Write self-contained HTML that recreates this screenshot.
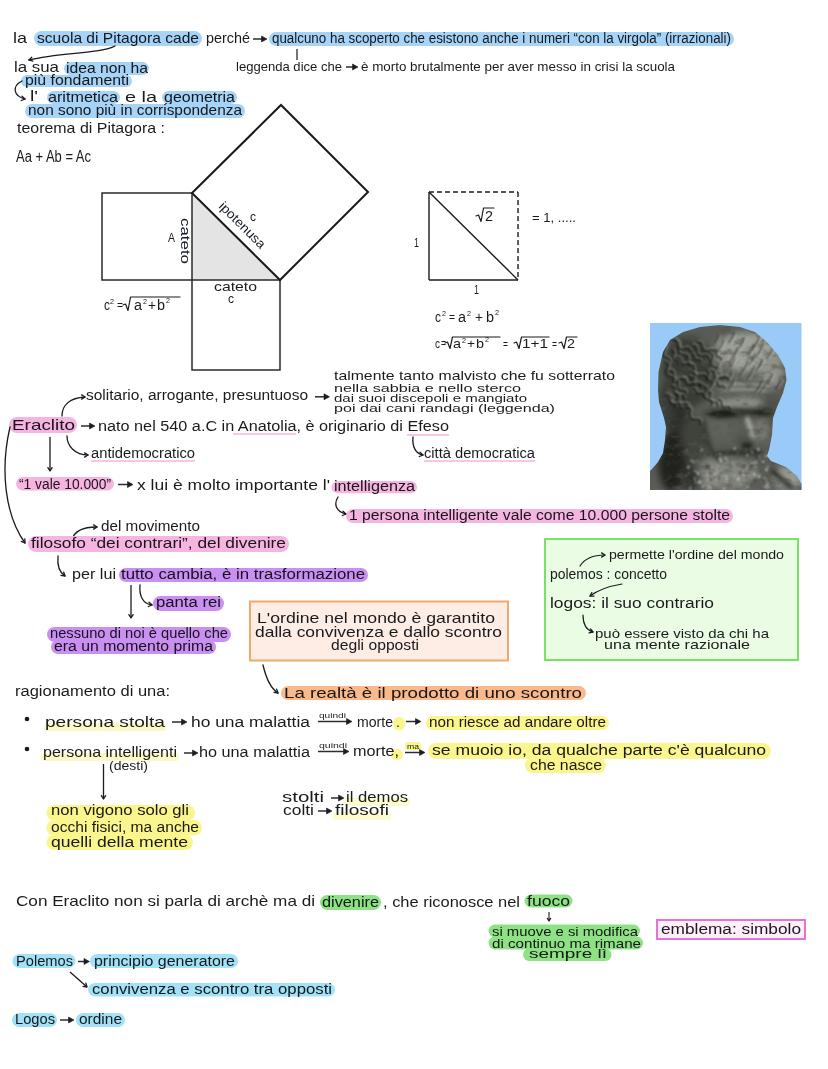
<!DOCTYPE html>
<html><head><meta charset="utf-8"><style>
html,body{margin:0;padding:0;background:#fff;overflow:hidden;}
svg{display:block;font-family:"Liberation Sans",sans-serif;}
text{mix-blend-mode:multiply;}
</style></head><body>
<svg width="828" height="1069" viewBox="0 0 828 1069">
<rect width="828" height="1069" fill="#fff"/>
<text x="13" y="43" font-size="15" textLength="14" lengthAdjust="spacingAndGlyphs" fill="#1b1b1f">la</text>
<rect x="34" y="31" width="168" height="15" rx="7.5" fill="#a7d3f6"/>
<text x="37" y="43" font-size="15" textLength="162" lengthAdjust="spacingAndGlyphs" fill="#1b1b1f">scuola di Pitagora cade</text>
<text x="206" y="43" font-size="15" textLength="44" lengthAdjust="spacingAndGlyphs" fill="#1b1b1f">perché</text>
<line x1="253" y1="39" x2="265" y2="39" stroke="#2c2c30" stroke-width="1.5"/>
<path d="M261.5,36 L267,39 L261.5,42 Z" fill="#1c1c22" stroke="#1c1c22" stroke-width="0.6" stroke-linejoin="round"/>
<rect x="269" y="32" width="465" height="14" rx="7.0" fill="#a7d3f6"/>
<text x="272" y="43" font-size="14" textLength="459" lengthAdjust="spacingAndGlyphs" fill="#1b1b1f">qualcuno ha scoperto che esistono anche i numeri “con la virgola” (irrazionali)</text>
<line x1="297" y1="49" x2="297" y2="60" stroke="#1b1b1f" stroke-width="1.2"/>
<text x="236" y="71" font-size="13" textLength="106" lengthAdjust="spacingAndGlyphs" fill="#1b1b1f">leggenda dice che</text>
<line x1="346" y1="67" x2="356" y2="67" stroke="#2c2c30" stroke-width="1.5"/>
<path d="M352.5,64 L358,67 L352.5,70 Z" fill="#1c1c22" stroke="#1c1c22" stroke-width="0.6" stroke-linejoin="round"/>
<text x="361" y="71" font-size="13" textLength="314" lengthAdjust="spacingAndGlyphs" fill="#1b1b1f">è morto brutalmente per aver messo in crisi la scuola</text>
<path d="M115,46 C100,54 60,52 29,60" stroke="#1b1b1f" stroke-width="1.3" fill="none" stroke-linecap="round" stroke-linejoin="round"/>
<path d="M31.8,57.1 L29,60 L32.8,61.1" stroke="#1b1b1f" stroke-width="1.3" fill="none" stroke-linecap="round" stroke-linejoin="round"/>
<text x="14" y="72" font-size="15" textLength="45" lengthAdjust="spacingAndGlyphs" fill="#1b1b1f">la sua</text>
<rect x="64" y="62" width="85" height="13" rx="6.5" fill="#a7d3f6"/>
<text x="66" y="73" font-size="15" textLength="82" lengthAdjust="spacingAndGlyphs" fill="#1b1b1f">idea non ha</text>
<rect x="21" y="75" width="111" height="12" rx="6.0" fill="#a7d3f6"/>
<text x="25" y="85" font-size="14" textLength="104" lengthAdjust="spacingAndGlyphs" fill="#1b1b1f">più fondamenti</text>
<path d="M22,81 C12,86 13,96 25,99" stroke="#1b1b1f" stroke-width="1.3" fill="none" stroke-linecap="round" stroke-linejoin="round"/>
<path d="M21.3,100.5 L25,99 L22.0,96.3" stroke="#1b1b1f" stroke-width="1.3" fill="none" stroke-linecap="round" stroke-linejoin="round"/>
<text x="30" y="101" font-size="15" textLength="8" lengthAdjust="spacingAndGlyphs" fill="#1b1b1f">l'</text>
<rect x="47" y="91" width="73" height="13" rx="6.5" fill="#a7d3f6"/>
<text x="48" y="102" font-size="15" textLength="70" lengthAdjust="spacingAndGlyphs" fill="#1b1b1f">aritmetica</text>
<text x="125" y="102" font-size="15" textLength="32" lengthAdjust="spacingAndGlyphs" fill="#1b1b1f">e la</text>
<rect x="162" y="91" width="75" height="13" rx="6.5" fill="#a7d3f6"/>
<text x="164" y="102" font-size="15" textLength="71" lengthAdjust="spacingAndGlyphs" fill="#1b1b1f">geometria</text>
<rect x="25" y="104" width="220" height="14" rx="7.0" fill="#a7d3f6"/>
<text x="28" y="115" font-size="15" textLength="214" lengthAdjust="spacingAndGlyphs" fill="#1b1b1f">non sono più in corrispondenza</text>
<text x="17" y="133" font-size="15" textLength="148" lengthAdjust="spacingAndGlyphs" fill="#1b1b1f">teorema di Pitagora :</text>
<text x="16" y="162" font-size="16" textLength="75" lengthAdjust="spacingAndGlyphs" fill="#1b1b1f">Aa + Ab = Ac</text>
<polygon points="192,193 192,280 280,280" fill="#e4e4e4"/>
<rect x="102" y="193" width="90" height="87" fill="none" stroke="#2a2a2a" stroke-width="1.5"/>
<rect x="192" y="280" width="88" height="90" fill="none" stroke="#2a2a2a" stroke-width="1.5"/>
<polygon points="192,193 281,105 368,192 280,280" fill="none" stroke="#1a1a1a" stroke-width="2"/>
<text x="0" y="0" font-size="13" fill="#141a24" textLength="46" lengthAdjust="spacingAndGlyphs" transform="translate(181,218) rotate(90)">cateto</text>
<text x="168" y="242" font-size="13" textLength="7" lengthAdjust="spacingAndGlyphs" fill="#1b1b1f">A</text>
<text x="0" y="0" font-size="13" fill="#141a24" textLength="60" lengthAdjust="spacingAndGlyphs" transform="translate(218,207) rotate(45)">ipotenusa</text>
<text x="250" y="221" font-size="13" textLength="6" lengthAdjust="spacingAndGlyphs" fill="#1b1b1f">c</text>
<text x="214" y="291" font-size="13" textLength="43" lengthAdjust="spacingAndGlyphs" fill="#1b1b1f">cateto</text>
<text x="228" y="303" font-size="13" textLength="6" lengthAdjust="spacingAndGlyphs" fill="#1b1b1f">c</text>
<text x="104" y="310" font-size="14" textLength="6" lengthAdjust="spacingAndGlyphs" fill="#1b1b1f">c</text>
<text x="110" y="304" font-size="8" textLength="4" lengthAdjust="spacingAndGlyphs" fill="#1b1b1f">2</text>
<text x="117" y="309" font-size="12" textLength="6" lengthAdjust="spacingAndGlyphs" fill="#1b1b1f">=</text>
<path d="M123,305 L125.5,304 L128,310.5 L130.5,297 L180,297" stroke="#1b1b1f" stroke-width="1.2" fill="none" stroke-linecap="round" stroke-linejoin="round"/>
<text x="134" y="310" font-size="14" textLength="8" lengthAdjust="spacingAndGlyphs" fill="#1b1b1f">a</text>
<text x="143" y="304" font-size="8" textLength="4" lengthAdjust="spacingAndGlyphs" fill="#1b1b1f">2</text>
<text x="148" y="310" font-size="14" textLength="8" lengthAdjust="spacingAndGlyphs" fill="#1b1b1f">+</text>
<text x="157" y="310" font-size="14" textLength="8" lengthAdjust="spacingAndGlyphs" fill="#1b1b1f">b</text>
<text x="166" y="303" font-size="8" textLength="4" lengthAdjust="spacingAndGlyphs" fill="#1b1b1f">2</text>
<line x1="429" y1="192" x2="429" y2="280" stroke="#1b1b1f" stroke-width="1.4"/>
<line x1="429" y1="280" x2="518" y2="280" stroke="#1b1b1f" stroke-width="1.4"/>
<line x1="429" y1="192" x2="518" y2="280" stroke="#1b1b1f" stroke-width="1.4"/>
<line x1="429" y1="192" x2="518" y2="192" stroke="#1b1b1f" stroke-width="1.4" stroke-dasharray="5,3"/>
<line x1="518" y1="192" x2="518" y2="280" stroke="#1b1b1f" stroke-width="1.4" stroke-dasharray="5,3"/>
<path d="M476,216 L478.5,215 L481,221.5 L483.5,208 L494,208" stroke="#1b1b1f" stroke-width="1.2" fill="none" stroke-linecap="round" stroke-linejoin="round"/>
<text x="485" y="221" font-size="14" textLength="8" lengthAdjust="spacingAndGlyphs" fill="#1b1b1f">2</text>
<text x="532" y="222" font-size="12" textLength="44" lengthAdjust="spacingAndGlyphs" fill="#1b1b1f">= 1, .....</text>
<text x="414" y="247" font-size="12" textLength="5" lengthAdjust="spacingAndGlyphs" fill="#1b1b1f">1</text>
<text x="474" y="294" font-size="12" textLength="5" lengthAdjust="spacingAndGlyphs" fill="#1b1b1f">1</text>
<text x="435" y="322" font-size="14" textLength="6" lengthAdjust="spacingAndGlyphs" fill="#1b1b1f">c</text>
<text x="442" y="316" font-size="8" textLength="4" lengthAdjust="spacingAndGlyphs" fill="#1b1b1f">2</text>
<text x="449" y="321" font-size="12" textLength="6" lengthAdjust="spacingAndGlyphs" fill="#1b1b1f">=</text>
<text x="458" y="322" font-size="14" textLength="8" lengthAdjust="spacingAndGlyphs" fill="#1b1b1f">a</text>
<text x="467" y="316" font-size="8" textLength="4" lengthAdjust="spacingAndGlyphs" fill="#1b1b1f">2</text>
<text x="475" y="322" font-size="14" textLength="8" lengthAdjust="spacingAndGlyphs" fill="#1b1b1f">+</text>
<text x="486" y="322" font-size="14" textLength="8" lengthAdjust="spacingAndGlyphs" fill="#1b1b1f">b</text>
<text x="495" y="315" font-size="8" textLength="4" lengthAdjust="spacingAndGlyphs" fill="#1b1b1f">2</text>
<text x="435" y="348" font-size="13" textLength="5" lengthAdjust="spacingAndGlyphs" fill="#1b1b1f">c</text>
<text x="441" y="347" font-size="11" textLength="5" lengthAdjust="spacingAndGlyphs" fill="#1b1b1f">=</text>
<path d="M445,343 L447.5,342 L450,348.5 L452.5,337 L500,337" stroke="#1b1b1f" stroke-width="1.2" fill="none" stroke-linecap="round" stroke-linejoin="round"/>
<text x="453" y="348" font-size="13" textLength="8" lengthAdjust="spacingAndGlyphs" fill="#1b1b1f">a</text>
<text x="462" y="343" font-size="8" textLength="4" lengthAdjust="spacingAndGlyphs" fill="#1b1b1f">2</text>
<text x="467" y="348" font-size="13" textLength="8" lengthAdjust="spacingAndGlyphs" fill="#1b1b1f">+</text>
<text x="476" y="348" font-size="13" textLength="8" lengthAdjust="spacingAndGlyphs" fill="#1b1b1f">b</text>
<text x="485" y="342" font-size="8" textLength="4" lengthAdjust="spacingAndGlyphs" fill="#1b1b1f">2</text>
<text x="503" y="348" font-size="13" textLength="5" lengthAdjust="spacingAndGlyphs" fill="#1b1b1f">=</text>
<path d="M514,343 L516.5,342 L519,348.5 L521.5,337 L549,337" stroke="#1b1b1f" stroke-width="1.2" fill="none" stroke-linecap="round" stroke-linejoin="round"/>
<text x="522" y="348" font-size="13" textLength="26" lengthAdjust="spacingAndGlyphs" fill="#1b1b1f">1+1</text>
<text x="552" y="348" font-size="13" textLength="5" lengthAdjust="spacingAndGlyphs" fill="#1b1b1f">=</text>
<path d="M559,343 L561.5,342 L564,348.5 L566.5,337 L577,337" stroke="#1b1b1f" stroke-width="1.2" fill="none" stroke-linecap="round" stroke-linejoin="round"/>
<text x="567" y="348" font-size="13" textLength="8" lengthAdjust="spacingAndGlyphs" fill="#1b1b1f">2</text>
<defs><clipPath id="hc"><polygon points="650,490 650,471 652,469 658,462 663,453 665,440 666,427 664,418 659,402 658,390 658.5,372 663,352 670,340 683,332 700,327 720,325 740,327 755,332 767,342 778,355 785,368 786.5,380 783,393 777,407 773,418 772,435 769,450 767,456 771,461 786,467 797,476 801.5,484 801.5,490"/></clipPath><filter id="bl" x="-20%" y="-20%" width="140%" height="140%" color-interpolation-filters="sRGB"><feGaussianBlur stdDeviation="3.5"/></filter><filter id="ct" x="0" y="0" width="100%" height="100%" color-interpolation-filters="sRGB"><feComponentTransfer><feFuncR type="linear" slope="1.35" intercept="-0.14"/><feFuncG type="linear" slope="1.35" intercept="-0.14"/><feFuncB type="linear" slope="1.35" intercept="-0.14"/></feComponentTransfer></filter><filter id="bl2" color-interpolation-filters="sRGB"><feGaussianBlur stdDeviation="0.8"/></filter><filter id="bl3" x="-20%" y="-20%" width="140%" height="140%" color-interpolation-filters="sRGB"><feGaussianBlur stdDeviation="2"/></filter><filter id="tx" x="0" y="0" width="100%" height="100%"><feTurbulence type="fractalNoise" baseFrequency="0.09 0.14" numOctaves="3" seed="7"/><feColorMatrix type="matrix" values="0 0 0 0 0.1  0 0 0 0 0.1  0 0 0 0 0.09  -3 0 0 0 1.55"/></filter><filter id="tx2" x="0" y="0" width="100%" height="100%"><feTurbulence type="fractalNoise" baseFrequency="0.2" numOctaves="2" seed="11"/><feColorMatrix type="matrix" values="0 0 0 0 0.8  0 0 0 0 0.8  0 0 0 0 0.78  2.6 0 0 0 -1.45"/></filter></defs>
<rect x="650" y="323" width="151.5" height="167" fill="#9acaf7"/>
<g clip-path="url(#hc)"><g filter="url(#ct)"><g filter="url(#bl)"><rect x="640" y="320" width="170" height="175" fill="#5d5f5a"/><ellipse cx="748" cy="352" rx="34" ry="20" fill="#8f918a"/><ellipse cx="772" cy="370" rx="12" ry="18" fill="#858780"/><ellipse cx="688" cy="372" rx="26" ry="36" fill="#454742"/><ellipse cx="678" cy="420" rx="12" ry="18" fill="#3c3e3a"/><ellipse cx="665" cy="405" rx="8" ry="22" fill="#464844"/><ellipse cx="745" cy="388" rx="26" ry="9" fill="#7d7f79"/><ellipse cx="742" cy="403" rx="30" ry="4" fill="#8b8d87"/><ellipse cx="771" cy="412" rx="10" ry="18" fill="#555752"/><ellipse cx="694" cy="440" rx="14" ry="24" fill="#4a4c47"/><ellipse cx="720" cy="428" rx="15" ry="11" fill="#62645f"/><ellipse cx="762" cy="430" rx="8" ry="12" fill="#74766f"/><ellipse cx="724" cy="474" rx="34" ry="16" fill="#7c7e78"/><ellipse cx="672" cy="462" rx="14" ry="30" fill="#333431"/><ellipse cx="690" cy="478" rx="10" ry="14" fill="#3e403c"/><ellipse cx="788" cy="478" rx="15" ry="12" fill="#8a8c87"/></g>
<g filter="url(#bl3)"><ellipse cx="738" cy="413" rx="36" ry="4" fill="#3d3f3a"/><ellipse cx="722" cy="413.5" rx="14" ry="4.5" fill="#2e302b"/><ellipse cx="763" cy="412" rx="9" ry="3.5" fill="#33352f"/><path d="M747,416 C749,424 752,432 753,440" stroke="#a6a8a2" stroke-width="4" fill="none"/><ellipse cx="745" cy="441" rx="9" ry="6" fill="#55574f"/><ellipse cx="747" cy="446" rx="6" ry="3" fill="#2e302c"/><path d="M716,454 C730,450 745,455 762,452" stroke="#2a2c28" stroke-width="3" fill="none"/><path d="M703,420 C705,440 712,455 722,462" stroke="#3a3c38" stroke-width="3" fill="none"/><path d="M771,470 L792,488" stroke="#2e302c" stroke-width="4" fill="none"/><path d="M712,398 C735,392 760,394 776,400" stroke="#5a5c57" stroke-width="2" fill="none"/></g>
<rect x="650" y="323" width="151" height="167" filter="url(#tx)" opacity="0.6"/>
<g filter="url(#bl2)"><circle cx="738.3" cy="478.4" r="1.2" fill="#b8bab4" opacity="0.85"/><circle cx="765.2" cy="478.3" r="1.2" fill="#b8bab4" opacity="0.85"/><circle cx="688.4" cy="467.1" r="1.3" fill="#b8bab4" opacity="0.85"/><circle cx="740.5" cy="484.9" r="0.7" fill="#b8bab4" opacity="0.85"/><circle cx="725.4" cy="458.1" r="1.0" fill="#b8bab4" opacity="0.85"/><circle cx="734.2" cy="448.5" r="0.8" fill="#b8bab4" opacity="0.85"/><circle cx="709.5" cy="485.6" r="1.1" fill="#b8bab4" opacity="0.85"/><circle cx="699.4" cy="480.7" r="0.7" fill="#b8bab4" opacity="0.85"/><circle cx="737.9" cy="453.2" r="0.6" fill="#b8bab4" opacity="0.85"/><circle cx="759.2" cy="456.6" r="0.8" fill="#b8bab4" opacity="0.85"/><circle cx="768.5" cy="483.8" r="0.8" fill="#b8bab4" opacity="0.85"/><circle cx="766.8" cy="470.1" r="1.1" fill="#b8bab4" opacity="0.85"/><circle cx="703.2" cy="486.6" r="1.1" fill="#b8bab4" opacity="0.85"/><circle cx="767.2" cy="484.6" r="0.8" fill="#b8bab4" opacity="0.85"/><circle cx="716.3" cy="454.8" r="0.7" fill="#b8bab4" opacity="0.85"/><circle cx="691.5" cy="460.4" r="1.0" fill="#b8bab4" opacity="0.85"/><circle cx="686.3" cy="475.8" r="0.8" fill="#b8bab4" opacity="0.85"/><circle cx="712.0" cy="481.6" r="0.9" fill="#b8bab4" opacity="0.85"/><circle cx="712.5" cy="467.7" r="1.1" fill="#b8bab4" opacity="0.85"/><circle cx="690.8" cy="488.0" r="0.6" fill="#b8bab4" opacity="0.85"/><circle cx="749.0" cy="482.6" r="0.6" fill="#b8bab4" opacity="0.85"/><circle cx="752.2" cy="463.0" r="1.0" fill="#b8bab4" opacity="0.85"/><circle cx="686.8" cy="449.9" r="0.7" fill="#b8bab4" opacity="0.85"/><circle cx="766.2" cy="456.1" r="1.1" fill="#b8bab4" opacity="0.85"/><circle cx="764.1" cy="486.6" r="0.8" fill="#b8bab4" opacity="0.85"/><circle cx="715.8" cy="469.5" r="1.1" fill="#b8bab4" opacity="0.85"/><circle cx="695.1" cy="478.7" r="1.2" fill="#b8bab4" opacity="0.85"/><circle cx="758.2" cy="449.5" r="1.3" fill="#b8bab4" opacity="0.85"/><circle cx="693.7" cy="462.0" r="1.0" fill="#b8bab4" opacity="0.85"/><circle cx="763.1" cy="461.9" r="1.2" fill="#b8bab4" opacity="0.85"/><circle cx="731.8" cy="460.8" r="0.8" fill="#b8bab4" opacity="0.85"/><circle cx="700.9" cy="451.2" r="0.7" fill="#b8bab4" opacity="0.85"/><circle cx="743.9" cy="488.9" r="0.7" fill="#b8bab4" opacity="0.85"/><circle cx="690.1" cy="488.5" r="1.0" fill="#b8bab4" opacity="0.85"/><circle cx="720.1" cy="457.7" r="1.0" fill="#b8bab4" opacity="0.85"/><circle cx="755.4" cy="466.7" r="0.9" fill="#b8bab4" opacity="0.85"/><circle cx="690.7" cy="485.6" r="0.6" fill="#b8bab4" opacity="0.85"/><circle cx="727.5" cy="482.4" r="0.7" fill="#b8bab4" opacity="0.85"/><circle cx="747.5" cy="486.9" r="1.0" fill="#b8bab4" opacity="0.85"/><circle cx="752.2" cy="452.4" r="0.9" fill="#b8bab4" opacity="0.85"/><circle cx="698.5" cy="482.6" r="0.8" fill="#b8bab4" opacity="0.85"/><circle cx="724.1" cy="489.0" r="1.2" fill="#b8bab4" opacity="0.85"/><circle cx="768.0" cy="466.6" r="0.9" fill="#b8bab4" opacity="0.85"/><circle cx="747.3" cy="467.6" r="0.8" fill="#b8bab4" opacity="0.85"/><circle cx="719.9" cy="454.0" r="0.9" fill="#b8bab4" opacity="0.85"/><circle cx="769.0" cy="487.4" r="1.0" fill="#b8bab4" opacity="0.85"/><circle cx="727.9" cy="461.9" r="0.7" fill="#b8bab4" opacity="0.85"/><circle cx="708.9" cy="480.1" r="1.2" fill="#b8bab4" opacity="0.85"/><circle cx="716.4" cy="480.2" r="1.1" fill="#b8bab4" opacity="0.85"/><circle cx="744.3" cy="475.2" r="1.1" fill="#b8bab4" opacity="0.85"/><circle cx="716.5" cy="476.9" r="0.8" fill="#b8bab4" opacity="0.85"/><circle cx="726.8" cy="479.6" r="1.1" fill="#b8bab4" opacity="0.85"/><circle cx="710.7" cy="486.8" r="1.1" fill="#b8bab4" opacity="0.85"/><circle cx="734.8" cy="448.5" r="1.0" fill="#b8bab4" opacity="0.85"/><circle cx="707.1" cy="475.5" r="0.9" fill="#b8bab4" opacity="0.85"/><circle cx="754.6" cy="474.5" r="1.2" fill="#b8bab4" opacity="0.85"/><circle cx="715.2" cy="474.4" r="1.1" fill="#b8bab4" opacity="0.85"/><circle cx="755.6" cy="462.4" r="1.2" fill="#b8bab4" opacity="0.85"/><circle cx="759.1" cy="476.2" r="1.3" fill="#b8bab4" opacity="0.85"/><circle cx="766.3" cy="469.2" r="1.0" fill="#b8bab4" opacity="0.85"/><circle cx="700.0" cy="482.3" r="1.3" fill="#b8bab4" opacity="0.85"/><circle cx="726.1" cy="476.3" r="1.1" fill="#b8bab4" opacity="0.85"/><circle cx="747.3" cy="455.0" r="1.1" fill="#b8bab4" opacity="0.85"/><circle cx="734.8" cy="475.3" r="0.9" fill="#b8bab4" opacity="0.85"/><circle cx="738.4" cy="479.8" r="1.0" fill="#b8bab4" opacity="0.85"/><circle cx="746.5" cy="449.1" r="0.7" fill="#b8bab4" opacity="0.85"/><circle cx="723.0" cy="474.7" r="0.8" fill="#b8bab4" opacity="0.85"/><circle cx="743.6" cy="473.9" r="0.6" fill="#b8bab4" opacity="0.85"/><circle cx="725.6" cy="457.3" r="0.6" fill="#b8bab4" opacity="0.85"/><circle cx="697.2" cy="461.0" r="0.7" fill="#b8bab4" opacity="0.85"/><circle cx="702.2" cy="449.5" r="0.9" fill="#b8bab4" opacity="0.85"/><circle cx="717.9" cy="473.1" r="1.0" fill="#b8bab4" opacity="0.85"/><circle cx="706.0" cy="485.0" r="0.6" fill="#b8bab4" opacity="0.85"/><circle cx="720.1" cy="459.4" r="0.9" fill="#b8bab4" opacity="0.85"/><circle cx="695.7" cy="482.1" r="0.9" fill="#b8bab4" opacity="0.85"/><circle cx="689.0" cy="473.2" r="0.7" fill="#b8bab4" opacity="0.85"/><circle cx="731.8" cy="461.9" r="1.0" fill="#b8bab4" opacity="0.85"/><circle cx="766.5" cy="481.6" r="0.9" fill="#b8bab4" opacity="0.85"/><circle cx="754.3" cy="474.3" r="0.9" fill="#b8bab4" opacity="0.85"/><circle cx="697.9" cy="472.4" r="1.0" fill="#b8bab4" opacity="0.85"/><circle cx="766.4" cy="487.7" r="1.0" fill="#b8bab4" opacity="0.85"/><circle cx="715.5" cy="484.6" r="0.6" fill="#b8bab4" opacity="0.85"/><circle cx="695.1" cy="471.2" r="1.0" fill="#b8bab4" opacity="0.85"/><circle cx="697.8" cy="473.8" r="1.2" fill="#b8bab4" opacity="0.85"/><circle cx="717.6" cy="465.7" r="0.8" fill="#b8bab4" opacity="0.85"/><circle cx="710.5" cy="487.9" r="0.9" fill="#b8bab4" opacity="0.85"/><circle cx="766.7" cy="485.5" r="1.0" fill="#b8bab4" opacity="0.85"/><circle cx="707.8" cy="488.2" r="0.9" fill="#b8bab4" opacity="0.85"/><circle cx="720.9" cy="461.1" r="1.3" fill="#b8bab4" opacity="0.85"/><circle cx="727.3" cy="459.7" r="0.9" fill="#b8bab4" opacity="0.85"/><circle cx="696.2" cy="473.5" r="1.1" fill="#3a3c38" opacity="0.8"/><circle cx="710.6" cy="480.0" r="1.4" fill="#3a3c38" opacity="0.8"/><circle cx="687.1" cy="469.8" r="1.0" fill="#3a3c38" opacity="0.8"/><circle cx="764.6" cy="480.1" r="1.0" fill="#3a3c38" opacity="0.8"/><circle cx="708.5" cy="454.3" r="1.5" fill="#3a3c38" opacity="0.8"/><circle cx="710.6" cy="472.9" r="1.1" fill="#3a3c38" opacity="0.8"/><circle cx="740.2" cy="472.8" r="1.3" fill="#3a3c38" opacity="0.8"/><circle cx="695.9" cy="479.2" r="1.0" fill="#3a3c38" opacity="0.8"/><circle cx="730.8" cy="461.8" r="1.0" fill="#3a3c38" opacity="0.8"/><circle cx="730.5" cy="467.0" r="1.1" fill="#3a3c38" opacity="0.8"/><circle cx="748.6" cy="472.2" r="0.8" fill="#3a3c38" opacity="0.8"/><circle cx="707.2" cy="466.7" r="1.4" fill="#3a3c38" opacity="0.8"/><circle cx="760.6" cy="470.4" r="0.8" fill="#3a3c38" opacity="0.8"/><circle cx="751.4" cy="465.5" r="1.2" fill="#3a3c38" opacity="0.8"/><circle cx="745.5" cy="473.9" r="1.1" fill="#3a3c38" opacity="0.8"/><circle cx="762.6" cy="463.8" r="1.1" fill="#3a3c38" opacity="0.8"/><circle cx="757.6" cy="456.1" r="1.0" fill="#3a3c38" opacity="0.8"/><circle cx="755.7" cy="450.7" r="1.4" fill="#3a3c38" opacity="0.8"/><circle cx="744.3" cy="465.7" r="1.0" fill="#3a3c38" opacity="0.8"/><circle cx="751.6" cy="485.3" r="0.9" fill="#3a3c38" opacity="0.8"/><circle cx="726.2" cy="470.5" r="1.1" fill="#3a3c38" opacity="0.8"/><circle cx="713.8" cy="454.3" r="1.2" fill="#3a3c38" opacity="0.8"/><circle cx="754.2" cy="450.8" r="1.0" fill="#3a3c38" opacity="0.8"/><circle cx="754.8" cy="480.5" r="1.3" fill="#3a3c38" opacity="0.8"/><circle cx="688.1" cy="477.6" r="1.5" fill="#3a3c38" opacity="0.8"/><circle cx="769.9" cy="476.8" r="0.8" fill="#3a3c38" opacity="0.8"/><circle cx="756.7" cy="457.0" r="1.3" fill="#3a3c38" opacity="0.8"/><circle cx="766.0" cy="477.2" r="0.9" fill="#3a3c38" opacity="0.8"/><circle cx="710.6" cy="485.6" r="0.9" fill="#3a3c38" opacity="0.8"/><circle cx="737.3" cy="465.0" r="0.9" fill="#3a3c38" opacity="0.8"/></g>
<g filter="url(#bl2)"><path d="M670.2,386.3 q3.3,-4.6 6.5,0 t6.5,0 t6.5,0" stroke="#262824" stroke-width="1.6" fill="none" opacity="0.85" transform="rotate(44 670.2 386.3)"/><path d="M670.2,386.3 q3.3,-4.6 6.5,0 t6.5,0 t6.5,0" stroke="#aeb0a9" stroke-width="1" fill="none" opacity="0.6" transform="rotate(44 670.2 386.3) translate(0,-2)"/><path d="M673.4,393.5 q3.6,-5.1 7.2,0 t7.2,0 t7.2,0" stroke="#262824" stroke-width="1.6" fill="none" opacity="0.85" transform="rotate(46 673.4 393.5)"/><path d="M673.4,393.5 q3.6,-5.1 7.2,0 t7.2,0 t7.2,0" stroke="#aeb0a9" stroke-width="1" fill="none" opacity="0.6" transform="rotate(46 673.4 393.5) translate(0,-2)"/><path d="M691.3,354.5 q2.0,-2.8 4.0,0 t4.0,0 t4.0,0" stroke="#262824" stroke-width="1.6" fill="none" opacity="0.85" transform="rotate(39 691.3 354.5)"/><path d="M691.3,354.5 q2.0,-2.8 4.0,0 t4.0,0 t4.0,0" stroke="#aeb0a9" stroke-width="1" fill="none" opacity="0.6" transform="rotate(39 691.3 354.5) translate(0,-2)"/><path d="M696.3,342.8 q3.6,-5.0 7.2,0 t7.2,0 t7.2,0" stroke="#262824" stroke-width="1.6" fill="none" opacity="0.85" transform="rotate(32 696.3 342.8)"/><path d="M696.3,342.8 q3.6,-5.0 7.2,0 t7.2,0 t7.2,0" stroke="#aeb0a9" stroke-width="1" fill="none" opacity="0.6" transform="rotate(32 696.3 342.8) translate(0,-2)"/><path d="M674.4,341.0 q4.0,-5.6 8.0,0 t8.0,0 t8.0,0" stroke="#262824" stroke-width="1.6" fill="none" opacity="0.85" transform="rotate(57 674.4 341.0)"/><path d="M674.4,341.0 q4.0,-5.6 8.0,0 t8.0,0 t8.0,0" stroke="#aeb0a9" stroke-width="1" fill="none" opacity="0.6" transform="rotate(57 674.4 341.0) translate(0,-2)"/><path d="M714.3,381.1 q2.1,-2.9 4.1,0 t4.1,0 t4.1,0" stroke="#262824" stroke-width="1.6" fill="none" opacity="0.85" transform="rotate(36 714.3 381.1)"/><path d="M714.3,381.1 q2.1,-2.9 4.1,0 t4.1,0 t4.1,0" stroke="#aeb0a9" stroke-width="1" fill="none" opacity="0.6" transform="rotate(36 714.3 381.1) translate(0,-2)"/><path d="M690.8,346.1 q3.9,-5.5 7.8,0 t7.8,0 t7.8,0" stroke="#262824" stroke-width="1.6" fill="none" opacity="0.85" transform="rotate(38 690.8 346.1)"/><path d="M690.8,346.1 q3.9,-5.5 7.8,0 t7.8,0 t7.8,0" stroke="#aeb0a9" stroke-width="1" fill="none" opacity="0.6" transform="rotate(38 690.8 346.1) translate(0,-2)"/><path d="M669.6,395.2 q2.2,-3.1 4.5,0 t4.5,0 t4.5,0" stroke="#262824" stroke-width="1.6" fill="none" opacity="0.85" transform="rotate(66 669.6 395.2)"/><path d="M669.6,395.2 q2.2,-3.1 4.5,0 t4.5,0 t4.5,0" stroke="#aeb0a9" stroke-width="1" fill="none" opacity="0.6" transform="rotate(66 669.6 395.2) translate(0,-2)"/><path d="M688.1,376.6 q2.7,-3.8 5.4,0 t5.4,0 t5.4,0" stroke="#262824" stroke-width="1.6" fill="none" opacity="0.85" transform="rotate(44 688.1 376.6)"/><path d="M688.1,376.6 q2.7,-3.8 5.4,0 t5.4,0 t5.4,0" stroke="#aeb0a9" stroke-width="1" fill="none" opacity="0.6" transform="rotate(44 688.1 376.6) translate(0,-2)"/><path d="M671.6,340.6 q3.7,-5.2 7.5,0 t7.5,0 t7.5,0" stroke="#262824" stroke-width="1.6" fill="none" opacity="0.85" transform="rotate(32 671.6 340.6)"/><path d="M671.6,340.6 q3.7,-5.2 7.5,0 t7.5,0 t7.5,0" stroke="#aeb0a9" stroke-width="1" fill="none" opacity="0.6" transform="rotate(32 671.6 340.6) translate(0,-2)"/><path d="M708.4,352.6 q3.9,-5.5 7.9,0 t7.9,0 t7.9,0" stroke="#262824" stroke-width="1.6" fill="none" opacity="0.85" transform="rotate(65 708.4 352.6)"/><path d="M708.4,352.6 q3.9,-5.5 7.9,0 t7.9,0 t7.9,0" stroke="#aeb0a9" stroke-width="1" fill="none" opacity="0.6" transform="rotate(65 708.4 352.6) translate(0,-2)"/><path d="M706.8,391.4 q3.2,-4.4 6.3,0 t6.3,0 t6.3,0" stroke="#262824" stroke-width="1.6" fill="none" opacity="0.85" transform="rotate(56 706.8 391.4)"/><path d="M706.8,391.4 q3.2,-4.4 6.3,0 t6.3,0 t6.3,0" stroke="#aeb0a9" stroke-width="1" fill="none" opacity="0.6" transform="rotate(56 706.8 391.4) translate(0,-2)"/><path d="M667.6,371.3 q3.7,-5.1 7.3,0 t7.3,0 t7.3,0" stroke="#262824" stroke-width="1.6" fill="none" opacity="0.85" transform="rotate(30 667.6 371.3)"/><path d="M667.6,371.3 q3.7,-5.1 7.3,0 t7.3,0 t7.3,0" stroke="#aeb0a9" stroke-width="1" fill="none" opacity="0.6" transform="rotate(30 667.6 371.3) translate(0,-2)"/><path d="M717.2,400.1 q2.8,-3.9 5.6,0 t5.6,0 t5.6,0" stroke="#262824" stroke-width="1.6" fill="none" opacity="0.85" transform="rotate(38 717.2 400.1)"/><path d="M717.2,400.1 q2.8,-3.9 5.6,0 t5.6,0 t5.6,0" stroke="#aeb0a9" stroke-width="1" fill="none" opacity="0.6" transform="rotate(38 717.2 400.1) translate(0,-2)"/><path d="M688.0,365.0 q4.0,-5.6 8.0,0 t8.0,0 t8.0,0" stroke="#262824" stroke-width="1.6" fill="none" opacity="0.85" transform="rotate(39 688.0 365.0)"/><path d="M688.0,365.0 q4.0,-5.6 8.0,0 t8.0,0 t8.0,0" stroke="#aeb0a9" stroke-width="1" fill="none" opacity="0.6" transform="rotate(39 688.0 365.0) translate(0,-2)"/><path d="M661.7,344.5 q3.4,-4.8 6.9,0 t6.9,0 t6.9,0" stroke="#262824" stroke-width="1.6" fill="none" opacity="0.85" transform="rotate(70 661.7 344.5)"/><path d="M661.7,344.5 q3.4,-4.8 6.9,0 t6.9,0 t6.9,0" stroke="#aeb0a9" stroke-width="1" fill="none" opacity="0.6" transform="rotate(70 661.7 344.5) translate(0,-2)"/><path d="M690.8,372.4 q3.1,-4.3 6.2,0 t6.2,0 t6.2,0" stroke="#262824" stroke-width="1.6" fill="none" opacity="0.85" transform="rotate(57 690.8 372.4)"/><path d="M690.8,372.4 q3.1,-4.3 6.2,0 t6.2,0 t6.2,0" stroke="#aeb0a9" stroke-width="1" fill="none" opacity="0.6" transform="rotate(57 690.8 372.4) translate(0,-2)"/><path d="M673.8,380.6 q3.1,-4.4 6.2,0 t6.2,0 t6.2,0" stroke="#262824" stroke-width="1.6" fill="none" opacity="0.85" transform="rotate(51 673.8 380.6)"/><path d="M673.8,380.6 q3.1,-4.4 6.2,0 t6.2,0 t6.2,0" stroke="#aeb0a9" stroke-width="1" fill="none" opacity="0.6" transform="rotate(51 673.8 380.6) translate(0,-2)"/><path d="M671.2,349.9 q2.7,-3.8 5.4,0 t5.4,0 t5.4,0" stroke="#262824" stroke-width="1.6" fill="none" opacity="0.85" transform="rotate(66 671.2 349.9)"/><path d="M671.2,349.9 q2.7,-3.8 5.4,0 t5.4,0 t5.4,0" stroke="#aeb0a9" stroke-width="1" fill="none" opacity="0.6" transform="rotate(66 671.2 349.9) translate(0,-2)"/><path d="M681.5,379.8 q2.6,-3.7 5.2,0 t5.2,0 t5.2,0" stroke="#262824" stroke-width="1.6" fill="none" opacity="0.85" transform="rotate(25 681.5 379.8)"/><path d="M681.5,379.8 q2.6,-3.7 5.2,0 t5.2,0 t5.2,0" stroke="#aeb0a9" stroke-width="1" fill="none" opacity="0.6" transform="rotate(25 681.5 379.8) translate(0,-2)"/><path d="M664.1,395.0 q3.6,-5.0 7.1,0 t7.1,0 t7.1,0" stroke="#262824" stroke-width="1.6" fill="none" opacity="0.85" transform="rotate(39 664.1 395.0)"/><path d="M664.1,395.0 q3.6,-5.0 7.1,0 t7.1,0 t7.1,0" stroke="#aeb0a9" stroke-width="1" fill="none" opacity="0.6" transform="rotate(39 664.1 395.0) translate(0,-2)"/><path d="M702.4,385.3 q3.8,-5.3 7.6,0 t7.6,0 t7.6,0" stroke="#262824" stroke-width="1.6" fill="none" opacity="0.85" transform="rotate(68 702.4 385.3)"/><path d="M702.4,385.3 q3.8,-5.3 7.6,0 t7.6,0 t7.6,0" stroke="#aeb0a9" stroke-width="1" fill="none" opacity="0.6" transform="rotate(68 702.4 385.3) translate(0,-2)"/><path d="M685.2,407.2 q3.9,-5.5 7.8,0 t7.8,0 t7.8,0" stroke="#262824" stroke-width="1.6" fill="none" opacity="0.85" transform="rotate(50 685.2 407.2)"/><path d="M685.2,407.2 q3.9,-5.5 7.8,0 t7.8,0 t7.8,0" stroke="#aeb0a9" stroke-width="1" fill="none" opacity="0.6" transform="rotate(50 685.2 407.2) translate(0,-2)"/><path d="M714.8,372.4 q2.8,-3.9 5.5,0 t5.5,0 t5.5,0" stroke="#262824" stroke-width="1.6" fill="none" opacity="0.85" transform="rotate(32 714.8 372.4)"/><path d="M714.8,372.4 q2.8,-3.9 5.5,0 t5.5,0 t5.5,0" stroke="#aeb0a9" stroke-width="1" fill="none" opacity="0.6" transform="rotate(32 714.8 372.4) translate(0,-2)"/><path d="M714.3,349.4 q2.1,-3.0 4.3,0 t4.3,0 t4.3,0" stroke="#262824" stroke-width="1.6" fill="none" opacity="0.85" transform="rotate(60 714.3 349.4)"/><path d="M714.3,349.4 q2.1,-3.0 4.3,0 t4.3,0 t4.3,0" stroke="#aeb0a9" stroke-width="1" fill="none" opacity="0.6" transform="rotate(60 714.3 349.4) translate(0,-2)"/><path d="M708.0,371.8 q3.7,-5.1 7.3,0 t7.3,0 t7.3,0" stroke="#262824" stroke-width="1.6" fill="none" opacity="0.85" transform="rotate(23 708.0 371.8)"/><path d="M708.0,371.8 q3.7,-5.1 7.3,0 t7.3,0 t7.3,0" stroke="#aeb0a9" stroke-width="1" fill="none" opacity="0.6" transform="rotate(23 708.0 371.8) translate(0,-2)"/><path d="M676.0,358.3 q2.8,-4.0 5.7,0 t5.7,0 t5.7,0" stroke="#262824" stroke-width="1.6" fill="none" opacity="0.85" transform="rotate(29 676.0 358.3)"/><path d="M676.0,358.3 q2.8,-4.0 5.7,0 t5.7,0 t5.7,0" stroke="#aeb0a9" stroke-width="1" fill="none" opacity="0.6" transform="rotate(29 676.0 358.3) translate(0,-2)"/><path d="M664.3,361.7 q3.8,-5.3 7.6,0 t7.6,0 t7.6,0" stroke="#262824" stroke-width="1.6" fill="none" opacity="0.85" transform="rotate(69 664.3 361.7)"/><path d="M664.3,361.7 q3.8,-5.3 7.6,0 t7.6,0 t7.6,0" stroke="#aeb0a9" stroke-width="1" fill="none" opacity="0.6" transform="rotate(69 664.3 361.7) translate(0,-2)"/><path d="M706.2,371.5 q2.5,-3.5 5.0,0 t5.0,0 t5.0,0" stroke="#262824" stroke-width="1.6" fill="none" opacity="0.85" transform="rotate(68 706.2 371.5)"/><path d="M706.2,371.5 q2.5,-3.5 5.0,0 t5.0,0 t5.0,0" stroke="#aeb0a9" stroke-width="1" fill="none" opacity="0.6" transform="rotate(68 706.2 371.5) translate(0,-2)"/><path d="M692.6,389.0 q2.1,-2.9 4.1,0 t4.1,0 t4.1,0" stroke="#262824" stroke-width="1.6" fill="none" opacity="0.85" transform="rotate(31 692.6 389.0)"/><path d="M692.6,389.0 q2.1,-2.9 4.1,0 t4.1,0 t4.1,0" stroke="#aeb0a9" stroke-width="1" fill="none" opacity="0.6" transform="rotate(31 692.6 389.0) translate(0,-2)"/><path d="M772.4,373.7 q-2.3,7.5 -8.3,15.1" stroke="#373935" stroke-width="1.3" fill="none" opacity="0.75"/><path d="M772.4,373.7 q-2.3,7.5 -8.3,15.1" stroke="#bcbeb7" stroke-width="1" fill="none" opacity="0.6" transform="translate(2,0)"/><path d="M755.3,353.4 q-1.9,6.3 -7.0,12.6" stroke="#373935" stroke-width="1.3" fill="none" opacity="0.75"/><path d="M755.3,353.4 q-1.9,6.3 -7.0,12.6" stroke="#bcbeb7" stroke-width="1" fill="none" opacity="0.6" transform="translate(2,0)"/><path d="M773.2,346.9 q-1.8,6.1 -6.8,12.3" stroke="#373935" stroke-width="1.3" fill="none" opacity="0.75"/><path d="M773.2,346.9 q-1.8,6.1 -6.8,12.3" stroke="#bcbeb7" stroke-width="1" fill="none" opacity="0.6" transform="translate(2,0)"/><path d="M731.9,372.3 q-1.2,4.0 -4.4,8.1" stroke="#373935" stroke-width="1.3" fill="none" opacity="0.75"/><path d="M731.9,372.3 q-1.2,4.0 -4.4,8.1" stroke="#bcbeb7" stroke-width="1" fill="none" opacity="0.6" transform="translate(2,0)"/><path d="M761.3,382.5 q-1.2,4.1 -4.5,8.2" stroke="#373935" stroke-width="1.3" fill="none" opacity="0.75"/><path d="M761.3,382.5 q-1.2,4.1 -4.5,8.2" stroke="#bcbeb7" stroke-width="1" fill="none" opacity="0.6" transform="translate(2,0)"/><path d="M754.7,365.4 q-2.2,7.4 -8.1,14.8" stroke="#373935" stroke-width="1.3" fill="none" opacity="0.75"/><path d="M754.7,365.4 q-2.2,7.4 -8.1,14.8" stroke="#bcbeb7" stroke-width="1" fill="none" opacity="0.6" transform="translate(2,0)"/><path d="M754.1,344.1 q-1.7,5.6 -6.2,11.2" stroke="#373935" stroke-width="1.3" fill="none" opacity="0.75"/><path d="M754.1,344.1 q-1.7,5.6 -6.2,11.2" stroke="#bcbeb7" stroke-width="1" fill="none" opacity="0.6" transform="translate(2,0)"/><path d="M781.0,379.8 q-1.4,4.5 -5.0,9.1" stroke="#373935" stroke-width="1.3" fill="none" opacity="0.75"/><path d="M781.0,379.8 q-1.4,4.5 -5.0,9.1" stroke="#bcbeb7" stroke-width="1" fill="none" opacity="0.6" transform="translate(2,0)"/><path d="M718.8,335.2 q-1.2,4.1 -4.5,8.2" stroke="#373935" stroke-width="1.3" fill="none" opacity="0.75"/><path d="M718.8,335.2 q-1.2,4.1 -4.5,8.2" stroke="#bcbeb7" stroke-width="1" fill="none" opacity="0.6" transform="translate(2,0)"/><path d="M744.2,337.7 q-2.2,7.5 -8.2,14.9" stroke="#373935" stroke-width="1.3" fill="none" opacity="0.75"/><path d="M744.2,337.7 q-2.2,7.5 -8.2,14.9" stroke="#bcbeb7" stroke-width="1" fill="none" opacity="0.6" transform="translate(2,0)"/><path d="M759.2,337.0 q-1.8,6.2 -6.8,12.3" stroke="#373935" stroke-width="1.3" fill="none" opacity="0.75"/><path d="M759.2,337.0 q-1.8,6.2 -6.8,12.3" stroke="#bcbeb7" stroke-width="1" fill="none" opacity="0.6" transform="translate(2,0)"/><path d="M735.3,357.2 q-1.5,4.9 -5.4,9.8" stroke="#373935" stroke-width="1.3" fill="none" opacity="0.75"/><path d="M735.3,357.2 q-1.5,4.9 -5.4,9.8" stroke="#bcbeb7" stroke-width="1" fill="none" opacity="0.6" transform="translate(2,0)"/><path d="M724.0,340.1 q-1.7,5.5 -6.1,11.0" stroke="#373935" stroke-width="1.3" fill="none" opacity="0.75"/><path d="M724.0,340.1 q-1.7,5.5 -6.1,11.0" stroke="#bcbeb7" stroke-width="1" fill="none" opacity="0.6" transform="translate(2,0)"/><path d="M763.1,360.3 q-1.3,4.2 -4.6,8.4" stroke="#373935" stroke-width="1.3" fill="none" opacity="0.75"/><path d="M763.1,360.3 q-1.3,4.2 -4.6,8.4" stroke="#bcbeb7" stroke-width="1" fill="none" opacity="0.6" transform="translate(2,0)"/><path d="M763.2,378.1 q-2.1,7.1 -7.8,14.2" stroke="#373935" stroke-width="1.3" fill="none" opacity="0.75"/><path d="M763.2,378.1 q-2.1,7.1 -7.8,14.2" stroke="#bcbeb7" stroke-width="1" fill="none" opacity="0.6" transform="translate(2,0)"/><path d="M768.9,330.4 q-1.8,5.9 -6.4,11.7" stroke="#373935" stroke-width="1.3" fill="none" opacity="0.75"/><path d="M768.9,330.4 q-1.8,5.9 -6.4,11.7" stroke="#bcbeb7" stroke-width="1" fill="none" opacity="0.6" transform="translate(2,0)"/><path d="M716.6,372.0 q-1.4,4.7 -5.2,9.4" stroke="#373935" stroke-width="1.3" fill="none" opacity="0.75"/><path d="M716.6,372.0 q-1.4,4.7 -5.2,9.4" stroke="#bcbeb7" stroke-width="1" fill="none" opacity="0.6" transform="translate(2,0)"/><path d="M763.2,343.9 q-2.0,6.8 -7.5,13.6" stroke="#373935" stroke-width="1.3" fill="none" opacity="0.75"/><path d="M763.2,343.9 q-2.0,6.8 -7.5,13.6" stroke="#bcbeb7" stroke-width="1" fill="none" opacity="0.6" transform="translate(2,0)"/><path d="M734.6,332.3 q-1.7,5.6 -6.1,11.1" stroke="#373935" stroke-width="1.3" fill="none" opacity="0.75"/><path d="M734.6,332.3 q-1.7,5.6 -6.1,11.1" stroke="#bcbeb7" stroke-width="1" fill="none" opacity="0.6" transform="translate(2,0)"/><path d="M734.3,379.5 q-1.6,5.2 -5.7,10.4" stroke="#373935" stroke-width="1.3" fill="none" opacity="0.75"/><path d="M734.3,379.5 q-1.6,5.2 -5.7,10.4" stroke="#bcbeb7" stroke-width="1" fill="none" opacity="0.6" transform="translate(2,0)"/><path d="M748.2,360.2 q-2.3,7.8 -8.6,15.6" stroke="#373935" stroke-width="1.3" fill="none" opacity="0.75"/><path d="M748.2,360.2 q-2.3,7.8 -8.6,15.6" stroke="#bcbeb7" stroke-width="1" fill="none" opacity="0.6" transform="translate(2,0)"/><path d="M719.1,363.1 q-1.8,6.0 -6.6,12.1" stroke="#373935" stroke-width="1.3" fill="none" opacity="0.75"/><path d="M719.1,363.1 q-1.8,6.0 -6.6,12.1" stroke="#bcbeb7" stroke-width="1" fill="none" opacity="0.6" transform="translate(2,0)"/><path d="M764.9,383.2 q-1.6,5.2 -5.8,10.5" stroke="#373935" stroke-width="1.3" fill="none" opacity="0.75"/><path d="M764.9,383.2 q-1.6,5.2 -5.8,10.5" stroke="#bcbeb7" stroke-width="1" fill="none" opacity="0.6" transform="translate(2,0)"/><path d="M762.4,358.9 q-1.9,6.2 -6.9,12.5" stroke="#373935" stroke-width="1.3" fill="none" opacity="0.75"/><path d="M762.4,358.9 q-1.9,6.2 -6.9,12.5" stroke="#bcbeb7" stroke-width="1" fill="none" opacity="0.6" transform="translate(2,0)"/><path d="M716.6,374.8 q-2.4,7.9 -8.7,15.8" stroke="#373935" stroke-width="1.3" fill="none" opacity="0.75"/><path d="M716.6,374.8 q-2.4,7.9 -8.7,15.8" stroke="#bcbeb7" stroke-width="1" fill="none" opacity="0.6" transform="translate(2,0)"/><path d="M737.6,347.5 q-2.4,8.0 -8.8,15.9" stroke="#373935" stroke-width="1.3" fill="none" opacity="0.75"/><path d="M737.6,347.5 q-2.4,8.0 -8.8,15.9" stroke="#bcbeb7" stroke-width="1" fill="none" opacity="0.6" transform="translate(2,0)"/><path d="M722,382 q20,-3 48,1" stroke="#4a4c47" stroke-width="1.2" fill="none" opacity="0.6"/><path d="M722,388 q20,-3 48,1" stroke="#4a4c47" stroke-width="1.2" fill="none" opacity="0.6"/><path d="M722,394 q20,-3 48,1" stroke="#4a4c47" stroke-width="1.2" fill="none" opacity="0.6"/></g></g></g>
<text x="334" y="380" font-size="13" textLength="281" lengthAdjust="spacingAndGlyphs" fill="#1b1b1f">talmente tanto malvisto che fu sotterrato</text>
<text x="334" y="391.5" font-size="11" textLength="187" lengthAdjust="spacingAndGlyphs" fill="#1b1b1f">nella sabbia e nello sterco</text>
<text x="334" y="401.5" font-size="11" textLength="193" lengthAdjust="spacingAndGlyphs" fill="#1b1b1f">dai suoi discepoli e mangiato</text>
<text x="334" y="411.5" font-size="11" textLength="221" lengthAdjust="spacingAndGlyphs" fill="#1b1b1f">poi dai cani randagi  (leggenda)</text>
<text x="86" y="400" font-size="14" textLength="222" lengthAdjust="spacingAndGlyphs" fill="#1b1b1f">solitario, arrogante, presuntuoso</text>
<line x1="315" y1="396.8" x2="327.5" y2="396.8" stroke="#2c2c30" stroke-width="1.5"/>
<path d="M324.0,393.8 L329.5,396.8 L324.0,399.8 Z" fill="#1c1c22" stroke="#1c1c22" stroke-width="0.6" stroke-linejoin="round"/>
<path d="M62,416 C62,405 70,398 85,397" stroke="#1b1b1f" stroke-width="1.3" fill="none" stroke-linecap="round" stroke-linejoin="round"/>
<path d="M81.6,399.1 L85,397 L81.6,394.9" stroke="#1b1b1f" stroke-width="1.3" fill="none" stroke-linecap="round" stroke-linejoin="round"/>
<rect x="9" y="417" width="68" height="16" rx="8.0" fill="#f6b5e1"/>
<text x="12" y="430" font-size="15" textLength="63" lengthAdjust="spacingAndGlyphs" fill="#1b1b1f">Eraclito</text>
<line x1="81" y1="426" x2="93" y2="426" stroke="#2c2c30" stroke-width="1.5"/>
<path d="M89.5,423 L95,426 L89.5,429 Z" fill="#1c1c22" stroke="#1c1c22" stroke-width="0.6" stroke-linejoin="round"/>
<text x="98" y="431" font-size="14" textLength="351" lengthAdjust="spacingAndGlyphs" fill="#1b1b1f">nato nel 540 a.C in Anatolia, è originario di Efeso</text>
<line x1="233" y1="434" x2="296" y2="434" stroke="#f2b6e2" stroke-width="1.5"/>
<line x1="407" y1="435" x2="449" y2="435" stroke="#f2b6e2" stroke-width="1.5"/>
<path d="M67,436 C67,446 75,455 88,455" stroke="#1b1b1f" stroke-width="1.3" fill="none" stroke-linecap="round" stroke-linejoin="round"/>
<path d="M84.6,457.1 L88,455 L84.6,452.9" stroke="#1b1b1f" stroke-width="1.3" fill="none" stroke-linecap="round" stroke-linejoin="round"/>
<text x="91" y="458" font-size="14" textLength="104" lengthAdjust="spacingAndGlyphs" fill="#1b1b1f">antidemocratico</text>
<line x1="91" y1="461" x2="195" y2="461" stroke="#f2b6e2" stroke-width="1.5"/>
<line x1="50" y1="437" x2="50" y2="471" stroke="#1b1b1f" stroke-width="1.3"/>
<path d="M47.9,467.6 L50,471 L52.1,467.6" stroke="#1b1b1f" stroke-width="1.3" fill="none" stroke-linecap="round" stroke-linejoin="round"/>
<path d="M10,427 C0,470 5,515 25,543" stroke="#1b1b1f" stroke-width="1.3" fill="none" stroke-linecap="round" stroke-linejoin="round"/>
<path d="M21.3,541.4 L25,543 L24.8,539.0" stroke="#1b1b1f" stroke-width="1.3" fill="none" stroke-linecap="round" stroke-linejoin="round"/>
<path d="M413,437 C412,447 416,454 423,455" stroke="#1b1b1f" stroke-width="1.3" fill="none" stroke-linecap="round" stroke-linejoin="round"/>
<path d="M419.3,456.5 L423,455 L420.0,452.3" stroke="#1b1b1f" stroke-width="1.3" fill="none" stroke-linecap="round" stroke-linejoin="round"/>
<text x="424" y="458" font-size="14" textLength="111" lengthAdjust="spacingAndGlyphs" fill="#1b1b1f">città democratica</text>
<line x1="424" y1="461" x2="535" y2="461" stroke="#f2b6e2" stroke-width="1.5"/>
<rect x="16" y="477" width="98" height="13.5" rx="6.75" fill="#f6b5e1"/>
<text x="19" y="488.5" font-size="14" textLength="92" lengthAdjust="spacingAndGlyphs" fill="#1b1b1f">“1 vale 10.000”</text>
<line x1="118" y1="484.5" x2="131" y2="484.5" stroke="#2c2c30" stroke-width="1.5"/>
<path d="M127.5,481.5 L133,484.5 L127.5,487.5 Z" fill="#1c1c22" stroke="#1c1c22" stroke-width="0.6" stroke-linejoin="round"/>
<text x="137" y="489.5" font-size="14" textLength="193" lengthAdjust="spacingAndGlyphs" fill="#1b1b1f">x lui è molto importante l'</text>
<rect x="331.5" y="481" width="85.5" height="12.300000000000011" rx="6.150000000000006" fill="#f6b5e1"/>
<text x="334" y="490.5" font-size="14" textLength="81" lengthAdjust="spacingAndGlyphs" fill="#1b1b1f">intelligenza</text>
<path d="M338,497 C333,505 337,512 346,514" stroke="#1b1b1f" stroke-width="1.3" fill="none" stroke-linecap="round" stroke-linejoin="round"/>
<path d="M342.3,515.5 L346,514 L343.0,511.3" stroke="#1b1b1f" stroke-width="1.3" fill="none" stroke-linecap="round" stroke-linejoin="round"/>
<rect x="346" y="509" width="387" height="14" rx="7.0" fill="#f6b5e1"/>
<text x="349" y="520" font-size="14" textLength="381" lengthAdjust="spacingAndGlyphs" fill="#1b1b1f">1 persona intelligente vale come 10.000 persone stolte</text>
<text x="101" y="531" font-size="14" textLength="99" lengthAdjust="spacingAndGlyphs" fill="#1b1b1f">del movimento</text>
<path d="M72,540 C74,531 82,527 97,527" stroke="#1b1b1f" stroke-width="1.3" fill="none" stroke-linecap="round" stroke-linejoin="round"/>
<path d="M93.6,529.1 L97,527 L93.6,524.9" stroke="#1b1b1f" stroke-width="1.3" fill="none" stroke-linecap="round" stroke-linejoin="round"/>
<rect x="28" y="536" width="261" height="16" rx="8.0" fill="#f6b5e1"/>
<text x="31" y="548" font-size="15" textLength="255" lengthAdjust="spacingAndGlyphs" fill="#1b1b1f">filosofo “dei contrari”, del divenire</text>
<path d="M58,556 C57,566 59,572 65,576" stroke="#1b1b1f" stroke-width="1.3" fill="none" stroke-linecap="round" stroke-linejoin="round"/>
<path d="M61.0,575.4 L65,576 L63.7,572.2" stroke="#1b1b1f" stroke-width="1.3" fill="none" stroke-linecap="round" stroke-linejoin="round"/>
<text x="72" y="579" font-size="14" textLength="44" lengthAdjust="spacingAndGlyphs" fill="#1b1b1f">per lui</text>
<rect x="119" y="568" width="249" height="14" rx="7.0" fill="#c990f1"/>
<text x="121" y="579" font-size="14" textLength="244" lengthAdjust="spacingAndGlyphs" fill="#1b1b1f">tutto cambia, è in trasformazione</text>
<line x1="131" y1="585" x2="131" y2="618" stroke="#1b1b1f" stroke-width="1.3"/>
<path d="M128.9,614.6 L131,618 L133.1,614.6" stroke="#1b1b1f" stroke-width="1.3" fill="none" stroke-linecap="round" stroke-linejoin="round"/>
<path d="M140,585 C139,596 143,604 152,605" stroke="#1b1b1f" stroke-width="1.3" fill="none" stroke-linecap="round" stroke-linejoin="round"/>
<path d="M148.3,606.5 L152,605 L149.0,602.3" stroke="#1b1b1f" stroke-width="1.3" fill="none" stroke-linecap="round" stroke-linejoin="round"/>
<rect x="153" y="596" width="71" height="15" rx="7.5" fill="#c990f1"/>
<text x="156" y="607" font-size="14" textLength="65" lengthAdjust="spacingAndGlyphs" fill="#1b1b1f">panta rei</text>
<rect x="47" y="627" width="184" height="15" rx="7.5" fill="#c990f1"/>
<text x="50" y="638" font-size="14" textLength="178" lengthAdjust="spacingAndGlyphs" fill="#1b1b1f">nessuno di noi è quello che</text>
<rect x="51" y="640" width="165" height="14" rx="7.0" fill="#c990f1"/>
<text x="54" y="651" font-size="14" textLength="159" lengthAdjust="spacingAndGlyphs" fill="#1b1b1f">era un momento prima</text>
<rect x="250" y="601.5" width="258" height="59" fill="#fdede5" stroke="#efa96c" stroke-width="2"/>
<text x="257" y="623" font-size="15" textLength="238" lengthAdjust="spacingAndGlyphs" fill="#1b1b1f">L'ordine nel mondo è garantito</text>
<text x="255" y="637" font-size="15" textLength="247" lengthAdjust="spacingAndGlyphs" fill="#1b1b1f">dalla convivenza e dallo scontro</text>
<text x="331" y="650" font-size="14" textLength="88" lengthAdjust="spacingAndGlyphs" fill="#1b1b1f">degli opposti</text>
<path d="M263,665 C266,678 270,688 278,693" stroke="#1b1b1f" stroke-width="1.3" fill="none" stroke-linecap="round" stroke-linejoin="round"/>
<path d="M274.0,692.4 L278,693 L276.7,689.2" stroke="#1b1b1f" stroke-width="1.3" fill="none" stroke-linecap="round" stroke-linejoin="round"/>
<rect x="281" y="686" width="305" height="14" rx="7.0" fill="#f8ba8c"/>
<text x="284" y="698" font-size="15" textLength="298" lengthAdjust="spacingAndGlyphs" fill="#1b1b1f">La realtà è il prodotto di uno scontro</text>
<rect x="545" y="539" width="253" height="121" fill="#ebfce5" stroke="#7be067" stroke-width="2"/>
<text x="609" y="559" font-size="13" textLength="175" lengthAdjust="spacingAndGlyphs" fill="#1b1b1f">permette l'ordine del mondo</text>
<path d="M580,566 C585,558 595,555 605,555" stroke="#1b1b1f" stroke-width="1.2" fill="none" stroke-linecap="round" stroke-linejoin="round"/>
<path d="M601.6,557.1 L605,555 L601.6,552.9" stroke="#1b1b1f" stroke-width="1.3" fill="none" stroke-linecap="round" stroke-linejoin="round"/>
<text x="550" y="579" font-size="14" textLength="117" lengthAdjust="spacingAndGlyphs" fill="#1b1b1f">polemos : concetto</text>
<path d="M622,584 C610,586 598,590 590,596" stroke="#1b1b1f" stroke-width="1.2" fill="none" stroke-linecap="round" stroke-linejoin="round"/>
<path d="M591.9,592.5 L590,596 L594.0,596.1" stroke="#1b1b1f" stroke-width="1.3" fill="none" stroke-linecap="round" stroke-linejoin="round"/>
<text x="550" y="608" font-size="14" textLength="164" lengthAdjust="spacingAndGlyphs" fill="#1b1b1f">logos: il suo contrario</text>
<path d="M583,615 C583,624 586,630 593,632" stroke="#1b1b1f" stroke-width="1.2" fill="none" stroke-linecap="round" stroke-linejoin="round"/>
<path d="M589.1,632.8 L593,632 L590.5,628.9" stroke="#1b1b1f" stroke-width="1.3" fill="none" stroke-linecap="round" stroke-linejoin="round"/>
<text x="595" y="638" font-size="13" textLength="174" lengthAdjust="spacingAndGlyphs" fill="#1b1b1f">può essere visto da chi ha</text>
<text x="604" y="649" font-size="13" textLength="146" lengthAdjust="spacingAndGlyphs" fill="#1b1b1f">una mente razionale</text>
<text x="15" y="696" font-size="14" textLength="155" lengthAdjust="spacingAndGlyphs" fill="#1b1b1f">ragionamento di una:</text>
<circle cx="27" cy="719" r="2.3" fill="#141a24"/>
<rect x="44" y="723" width="122" height="8" rx="3" fill="#fcf9c8"/>
<text x="45" y="727" font-size="15" textLength="120" lengthAdjust="spacingAndGlyphs" fill="#1b1b1f">persona stolta</text>
<line x1="172" y1="722" x2="185" y2="722" stroke="#2c2c30" stroke-width="1.5"/>
<path d="M181.5,719 L187,722 L181.5,725 Z" fill="#1c1c22" stroke="#1c1c22" stroke-width="0.6" stroke-linejoin="round"/>
<text x="191" y="727" font-size="14" textLength="119" lengthAdjust="spacingAndGlyphs" fill="#1b1b1f">ho una malattia</text>
<text x="319" y="717.5" font-size="8" textLength="27" lengthAdjust="spacingAndGlyphs" fill="#1b1b1f">quindi</text>
<line x1="318" y1="721.5" x2="350" y2="721.5" stroke="#2c2c30" stroke-width="1.5"/>
<path d="M346.5,718.5 L352,721.5 L346.5,724.5 Z" fill="#1c1c22" stroke="#1c1c22" stroke-width="0.6" stroke-linejoin="round"/>
<text x="357" y="727" font-size="14" textLength="36" lengthAdjust="spacingAndGlyphs" fill="#1b1b1f">morte</text>
<rect x="393.5" y="717" width="11.5" height="13.5" rx="5.5" fill="#fbf58e"/>
<text x="396" y="727" font-size="14" textLength="4" lengthAdjust="spacingAndGlyphs" fill="#1b1b1f">.</text>
<line x1="406" y1="721.5" x2="419" y2="721.5" stroke="#2c2c30" stroke-width="1.5"/>
<path d="M415.5,718.5 L421,721.5 L415.5,724.5 Z" fill="#1c1c22" stroke="#1c1c22" stroke-width="0.6" stroke-linejoin="round"/>
<rect x="426" y="716" width="183" height="14" rx="7.0" fill="#fbf58e"/>
<text x="429" y="727" font-size="14" textLength="177" lengthAdjust="spacingAndGlyphs" fill="#1b1b1f">non riesce ad andare oltre</text>
<circle cx="27" cy="749" r="2.3" fill="#141a24"/>
<rect x="41" y="753" width="138" height="8" rx="3" fill="#fcf9c8"/>
<text x="43" y="757" font-size="15" textLength="134" lengthAdjust="spacingAndGlyphs" fill="#1b1b1f">persona intelligenti</text>
<line x1="184" y1="753" x2="196" y2="753" stroke="#2c2c30" stroke-width="1.5"/>
<path d="M192.5,750 L198,753 L192.5,756 Z" fill="#1c1c22" stroke="#1c1c22" stroke-width="0.6" stroke-linejoin="round"/>
<text x="199" y="757" font-size="14" textLength="111" lengthAdjust="spacingAndGlyphs" fill="#1b1b1f">ho una malattia</text>
<text x="319" y="747.5" font-size="8" textLength="28" lengthAdjust="spacingAndGlyphs" fill="#1b1b1f">quindi</text>
<line x1="318" y1="751.5" x2="347" y2="751.5" stroke="#2c2c30" stroke-width="1.5"/>
<path d="M343.5,748.5 L349,751.5 L343.5,754.5 Z" fill="#1c1c22" stroke="#1c1c22" stroke-width="0.6" stroke-linejoin="round"/>
<rect x="391" y="749" width="12" height="11" rx="5.5" fill="#fbf58e"/>
<text x="353" y="756" font-size="15" textLength="46" lengthAdjust="spacingAndGlyphs" fill="#1b1b1f">morte,</text>
<rect x="405" y="742" width="16" height="8" rx="3" fill="#fbf58e"/>
<text x="407" y="748.5" font-size="8" textLength="12" lengthAdjust="spacingAndGlyphs" fill="#1b1b1f">ma</text>
<line x1="405" y1="752.5" x2="423" y2="752.5" stroke="#2c2c30" stroke-width="1.5"/>
<path d="M419.5,749.5 L425,752.5 L419.5,755.5 Z" fill="#1c1c22" stroke="#1c1c22" stroke-width="0.6" stroke-linejoin="round"/>
<rect x="428" y="743" width="343" height="16" rx="8.0" fill="#fbf58e"/>
<text x="432" y="755" font-size="14" textLength="334" lengthAdjust="spacingAndGlyphs" fill="#1b1b1f">se muoio io, da qualche parte c'è qualcuno</text>
<rect x="525" y="758" width="81" height="15" rx="7.5" fill="#fbf58e"/>
<text x="530" y="770" font-size="14" textLength="72" lengthAdjust="spacingAndGlyphs" fill="#1b1b1f">che nasce</text>
<text x="109" y="770" font-size="12" textLength="39" lengthAdjust="spacingAndGlyphs" fill="#1b1b1f">(desti)</text>
<line x1="103.5" y1="764" x2="103.5" y2="799" stroke="#1b1b1f" stroke-width="1.3"/>
<path d="M101.4,795.6 L103.5,799 L105.6,795.6" stroke="#1b1b1f" stroke-width="1.3" fill="none" stroke-linecap="round" stroke-linejoin="round"/>
<rect x="46.5" y="805" width="148.5" height="15.5" rx="7.75" fill="#fbf58e"/>
<text x="51" y="815" font-size="14" textLength="138" lengthAdjust="spacingAndGlyphs" fill="#1b1b1f">non vigono solo gli</text>
<rect x="46.5" y="820" width="155.5" height="15.5" rx="7.75" fill="#fbf58e"/>
<text x="51" y="832" font-size="14" textLength="148" lengthAdjust="spacingAndGlyphs" fill="#1b1b1f">occhi fisici, ma anche</text>
<rect x="46.5" y="835" width="146.5" height="15" rx="7.5" fill="#fbf58e"/>
<text x="51" y="846.5" font-size="14" textLength="137" lengthAdjust="spacingAndGlyphs" fill="#1b1b1f">quelli della mente</text>
<rect x="343" y="798" width="67" height="8" rx="3" fill="#fcfad0"/>
<rect x="333" y="812" width="58" height="8" rx="3" fill="#fcfad0"/>
<text x="282" y="802" font-size="14" textLength="42" lengthAdjust="spacingAndGlyphs" fill="#1b1b1f">stolti</text>
<line x1="331" y1="798" x2="342" y2="798" stroke="#2c2c30" stroke-width="1.5"/>
<path d="M338.5,795 L344,798 L338.5,801 Z" fill="#1c1c22" stroke="#1c1c22" stroke-width="0.6" stroke-linejoin="round"/>
<text x="346" y="802" font-size="14" textLength="62" lengthAdjust="spacingAndGlyphs" fill="#1b1b1f">il demos</text>
<text x="283" y="815" font-size="14" textLength="31" lengthAdjust="spacingAndGlyphs" fill="#1b1b1f">colti</text>
<line x1="318" y1="811" x2="330" y2="811" stroke="#2c2c30" stroke-width="1.5"/>
<path d="M326.5,808 L332,811 L326.5,814 Z" fill="#1c1c22" stroke="#1c1c22" stroke-width="0.6" stroke-linejoin="round"/>
<text x="335" y="815" font-size="14" textLength="54" lengthAdjust="spacingAndGlyphs" fill="#1b1b1f">filosofi</text>
<text x="16" y="906" font-size="15" textLength="299" lengthAdjust="spacingAndGlyphs" fill="#1b1b1f">Con Eraclito non si parla di archè ma di</text>
<rect x="320" y="895" width="61" height="15" rx="7.5" fill="#8fe185"/>
<text x="322" y="907" font-size="15" textLength="57" lengthAdjust="spacingAndGlyphs" fill="#1b1b1f">divenire</text>
<text x="383" y="907" font-size="15" textLength="137" lengthAdjust="spacingAndGlyphs" fill="#1b1b1f">, che riconosce nel</text>
<rect x="524.5" y="894.5" width="48.0" height="13.0" rx="6.5" fill="#8fe185"/>
<text x="527" y="905.5" font-size="15" textLength="43" lengthAdjust="spacingAndGlyphs" fill="#1b1b1f">fuoco</text>
<line x1="549" y1="912" x2="549" y2="921" stroke="#1b1b1f" stroke-width="1.1"/>
<path d="M547.4,918.4 L549,921 L550.6,918.4" stroke="#1b1b1f" stroke-width="1.3" fill="none" stroke-linecap="round" stroke-linejoin="round"/>
<rect x="488.5" y="924.5" width="151.5" height="13.0" rx="6.5" fill="#8fe185"/>
<rect x="488.5" y="936.5" width="154.5" height="13.0" rx="6.5" fill="#8fe185"/>
<rect x="523" y="948.5" width="88.5" height="12.5" rx="6.25" fill="#8fe185"/>
<text x="492" y="936" font-size="13" textLength="146" lengthAdjust="spacingAndGlyphs" fill="#1b1b1f">si muove e si modifica</text>
<text x="492" y="948" font-size="13" textLength="149" lengthAdjust="spacingAndGlyphs" fill="#1b1b1f">di continuo ma rimane</text>
<text x="529" y="958" font-size="13" textLength="78" lengthAdjust="spacingAndGlyphs" fill="#1b1b1f">sempre lì</text>
<rect x="657" y="920" width="148" height="19" fill="#fdeefa" stroke="#e474d4" stroke-width="2"/>
<text x="661" y="934" font-size="14" textLength="140" lengthAdjust="spacingAndGlyphs" fill="#1b1b1f">emblema: simbolo</text>
<rect x="12.5" y="954" width="63.0" height="14" rx="7.0" fill="#a3e2f6"/>
<text x="16" y="965.5" font-size="14" textLength="57" lengthAdjust="spacingAndGlyphs" fill="#1b1b1f">Polemos</text>
<line x1="78" y1="961.5" x2="87.5" y2="961.5" stroke="#2c2c30" stroke-width="1.5"/>
<path d="M84.0,958.5 L89.5,961.5 L84.0,964.5 Z" fill="#1c1c22" stroke="#1c1c22" stroke-width="0.6" stroke-linejoin="round"/>
<rect x="90" y="954" width="148" height="14" rx="7.0" fill="#a3e2f6"/>
<text x="94" y="965.5" font-size="14" textLength="141" lengthAdjust="spacingAndGlyphs" fill="#1b1b1f">principio generatore</text>
<line x1="70" y1="972" x2="87" y2="987" stroke="#1b1b1f" stroke-width="1.3"/>
<path d="M83.1,986.3 L87,987 L85.9,983.2" stroke="#1b1b1f" stroke-width="1.3" fill="none" stroke-linecap="round" stroke-linejoin="round"/>
<rect x="88" y="983" width="247" height="13.5" rx="6.75" fill="#a3e2f6"/>
<text x="92" y="994" font-size="14" textLength="240" lengthAdjust="spacingAndGlyphs" fill="#1b1b1f">convivenza e scontro tra opposti</text>
<rect x="12" y="1013" width="45" height="14" rx="7.0" fill="#a3e2f6"/>
<text x="15" y="1024" font-size="14" textLength="40" lengthAdjust="spacingAndGlyphs" fill="#1b1b1f">Logos</text>
<line x1="60" y1="1020" x2="72" y2="1020" stroke="#2c2c30" stroke-width="1.5"/>
<path d="M68.5,1017 L74,1020 L68.5,1023 Z" fill="#1c1c22" stroke="#1c1c22" stroke-width="0.6" stroke-linejoin="round"/>
<rect x="76" y="1013" width="49" height="14" rx="7.0" fill="#a3e2f6"/>
<text x="79" y="1024" font-size="14" textLength="43" lengthAdjust="spacingAndGlyphs" fill="#1b1b1f">ordine</text>
</svg></body></html>
